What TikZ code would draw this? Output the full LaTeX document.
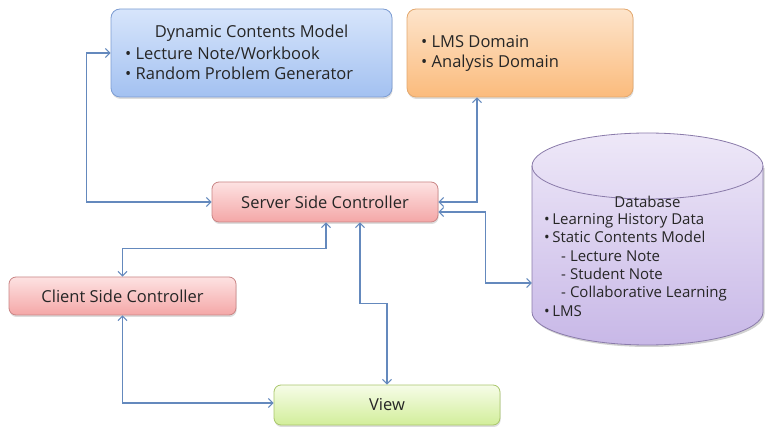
\documentclass[tikz,border=0pt]{standalone}
\usepackage{fontspec}
\setmainfont{Open Sans}
\usetikzlibrary{arrows.meta,shadows}

\definecolor{linkblue}{HTML}{6489BD}
\definecolor{txt}{HTML}{262626}
\definecolor{blueedge}{HTML}{7C9CD2}
\definecolor{bluetop}{HTML}{D7E5FB}
\definecolor{bluebottom}{HTML}{A3C1F1}
\definecolor{orangeedge}{HTML}{E3A86E}
\definecolor{orangetop}{HTML}{FDE4CB}
\definecolor{orangebottom}{HTML}{FBBB7C}
\definecolor{rededge}{HTML}{C98585}
\definecolor{redtop}{HTML}{FDE2E2}
\definecolor{redbottom}{HTML}{F4A7A7}
\definecolor{greenedge}{HTML}{A9C66C}
\definecolor{greentop}{HTML}{F6FCE8}
\definecolor{greenbottom}{HTML}{D2EE9A}
\definecolor{dbedge}{HTML}{8A7BAA}
\definecolor{dbtop}{HTML}{EEE8F8}
\definecolor{dbbottom}{HTML}{C8B8E7}

\tikzset{
  x=1pt, y=-1pt,
  box/.style={draw, rounded corners=9pt, line width=0.8pt, inner sep=0pt,
    drop shadow={shadow xshift=0.6pt, shadow yshift=-2pt, opacity=0.22, fill=black!60}},
  bluebox/.style={box, draw=blueedge, top color=bluetop, bottom color=bluebottom},
  orangebox/.style={box, draw=orangeedge, top color=orangetop, bottom color=orangebottom},
  redbox/.style={box, rounded corners=7pt, draw=rededge, top color=redtop, bottom color=redbottom},
  greenbox/.style={box, rounded corners=7pt, draw=greenedge, top color=greentop, bottom color=greenbottom},
  label/.style={text=txt, font=\fontsize{16.5}{20}\selectfont, inner sep=0pt},
  dblabel/.style={text=txt, font=\fontsize{15}{18.4}\selectfont, inner sep=0pt},
  link/.style={draw=linkblue, line width=1.1pt,
    {Straight Barb[length=4.5pt, width=9pt]}-{Straight Barb[length=4.5pt, width=9pt]}},
}

\begin{document}
\begin{tikzpicture}
  \useasboundingbox (0,0) rectangle (765,427);

  % boxes
  \node[bluebox, minimum width=281pt, minimum height=88pt] (dyn) at (251.5,53) {};
  \node[orangebox, minimum width=226pt, minimum height=88pt] (lms) at (520,53) {};
  \node[redbox, minimum width=226pt, minimum height=40pt] (srv) at (325,202) {};
  \node[redbox, minimum width=227pt, minimum height=38pt] (cli) at (122.5,296) {};
  \node[greenbox, minimum width=226pt, minimum height=40pt] (view) at (387,405) {};

  % database cylinder
  \fill[black, opacity=0.18] (533.5,168) -- (533.5,314) arc[start angle=180, end angle=360, x radius=115.5pt, y radius=33pt] -- (764.5,168) -- cycle;
  \path[draw=dbedge, line width=0.8pt, top color=dbtop, bottom color=dbbottom]
    (532,166) -- (532,312)
    arc[start angle=180, end angle=360, x radius=115.5pt, y radius=33pt]
    -- (763,166)
    arc[start angle=0, end angle=180, x radius=115.5pt, y radius=33pt] -- cycle;
  \draw[dbedge, line width=0.8pt] (532,166)
    arc[start angle=180, end angle=360, x radius=115.5pt, y radius=33pt];
  \node[minimum width=231pt, minimum height=212pt, inner sep=0pt] (db) at (647.5,239) {};

  % texts
  \node[label] (dyntitle) at (251.5,33) {Dynamic Contents Model};
  \node[label, anchor=west, align=left] (dynlist) at (125,63)
    {• Lecture Note/Workbook\\• Random Problem Generator};
  \node[label, anchor=west, align=left] (lmslist) at (421,53)
    {• LMS Domain\\• Analysis Domain};
  \node[label] (srvtext) at (325,202) {Server Side Controller};
  \node[label] (clitext) at (122.5,296) {Client Side Controller};
  \node[label] (viewtext) at (387,405) {View};
  \node[dblabel] (dbtitle) at (647.5,202) {Database};
  \node[dblabel, anchor=north west, align=left] (dblist) at (544,213)
    {•\hspace{2.5pt}Learning History Data\\
     •\hspace{2.5pt}Static Contents Model\\
     \hspace*{17pt}-\hspace{4pt}Lecture Note\\
     \hspace*{17pt}-\hspace{4pt}Student Note\\
     \hspace*{17pt}-\hspace{4pt}Collaborative Learning\\
     •\hspace{2.5pt}LMS};

  % connectors
  \draw[link] (srv.west) -- ++(-125,0) |- (dyn.west);
  \draw[link] ([xshift=-43pt]lms.south) |- (srv.east);
  \draw[link] ([yshift=-10pt]srv.east) -- ++(47,0) |- ([yshift=-44pt]db.west);
  \draw[link] ([xshift=1pt]srv.south) -- ++(0,26) -| (cli.north);
  \draw[link] ([xshift=35pt]srv.south) -- ++(0,81) -| (view.north);
  \draw[link] (cli.south) |- ([yshift=2pt]view.west);
\end{tikzpicture}
\end{document}
